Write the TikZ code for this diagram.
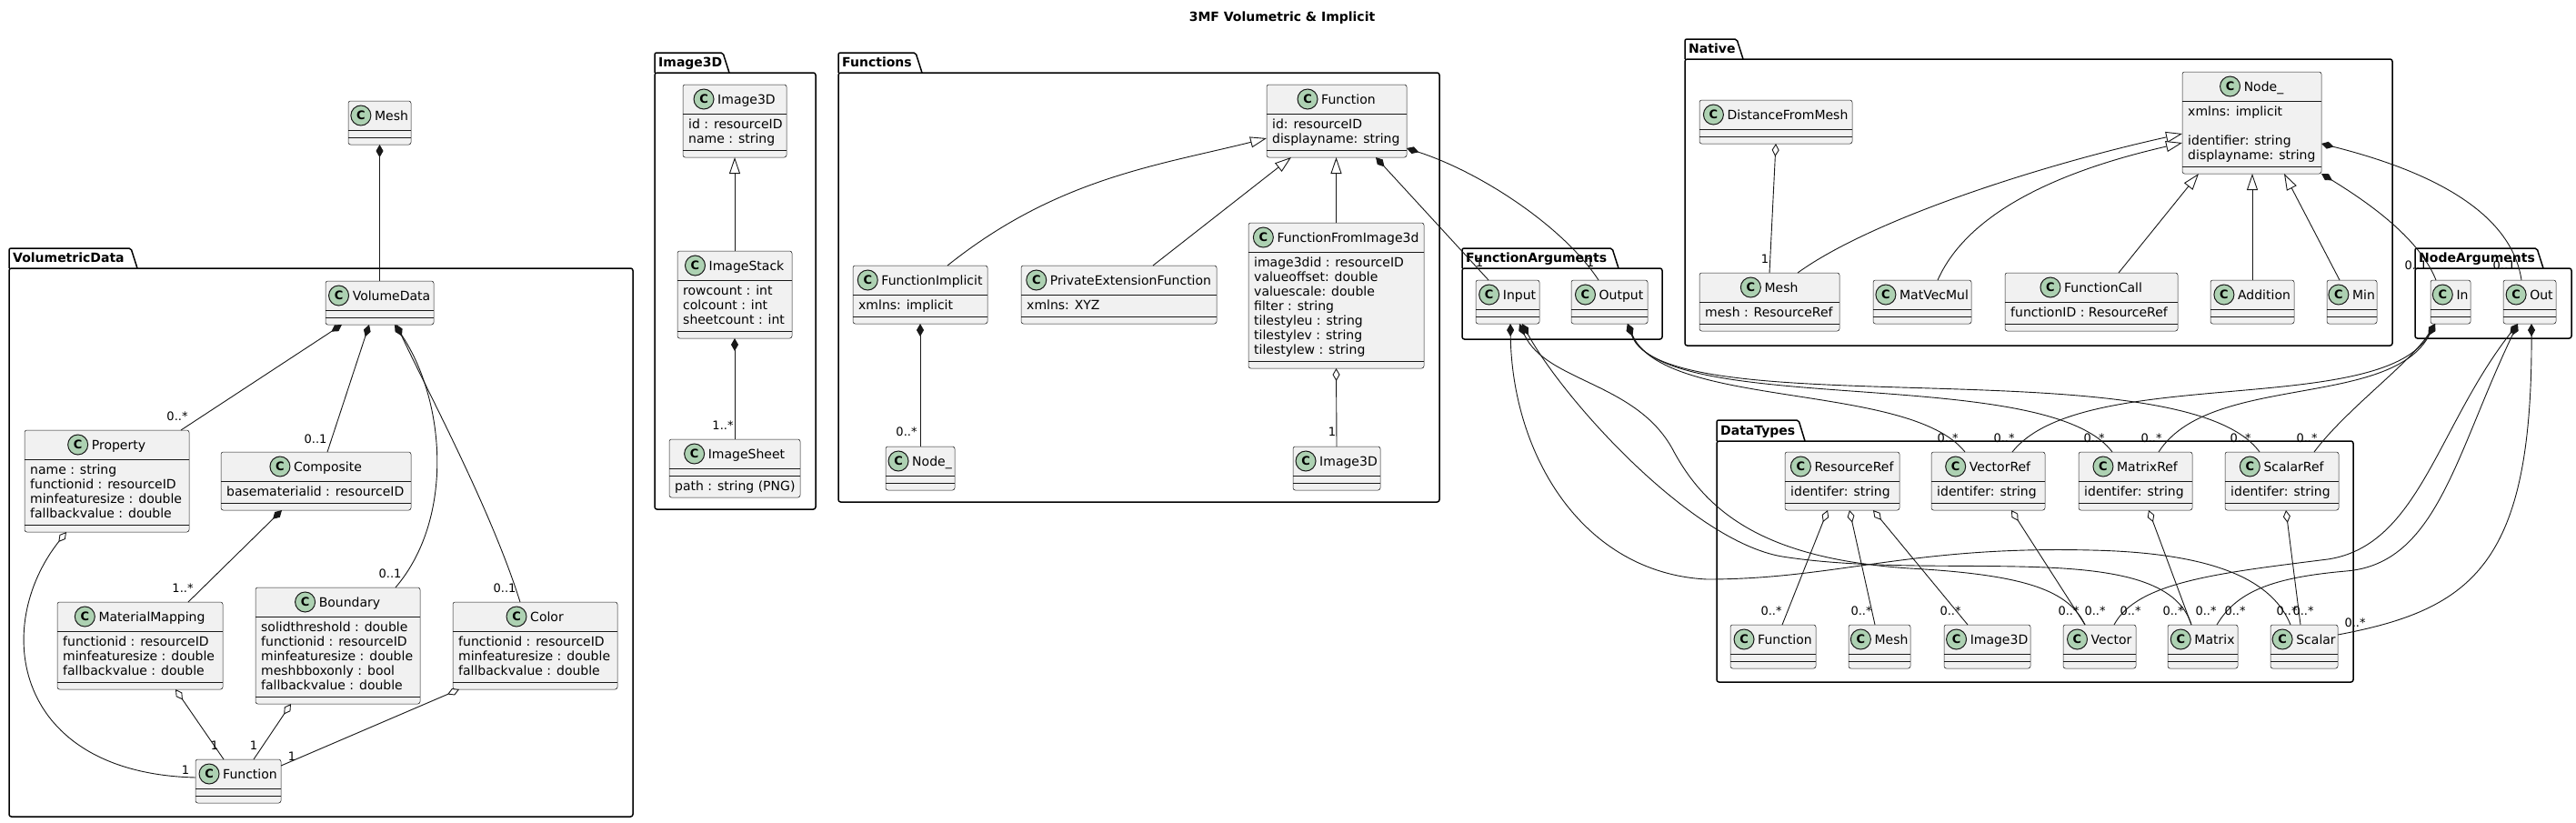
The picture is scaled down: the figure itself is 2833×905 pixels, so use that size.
\documentclass[tikz,border=0pt]{standalone}
\usepackage{fontspec}
\setmainfont{DejaVu Sans}
\usetikzlibrary{arrows.meta,calc}
\definecolor{ink}{HTML}{181818}
\definecolor{clsfill}{HTML}{F1F1F1}
\definecolor{badgefill}{HTML}{ADD1B2}
\tikzset{
  clsbox/.style={draw=ink, line width=0.5pt, fill=clsfill, rounded corners=2.5pt, inner sep=0pt, outer sep=0pt},
  clsname/.style={inner sep=0pt, font=\fontsize{14}{16}\selectfont, text=black},
  badge/.style={circle, draw=ink, line width=1pt, fill=badgefill, minimum size=22pt, inner sep=0pt, font=\fontsize{13}{13}\selectfont\bfseries},
  sepline/.style={draw=ink, line width=0.5pt},
  attr/.style={inner sep=0pt, font=\fontsize{14}{16}\selectfont},
  pkgline/.style={draw=black, line width=1.5pt},
  pkgname/.style={inner sep=0pt, font=\fontsize{14}{16}\selectfont\bfseries},
  conn/.style={draw=ink, line width=0.9pt},
  comp/.style={arrows={Diamond[length=14pt,width=8pt]-}},
  aggr/.style={arrows={Diamond[length=14pt,width=8pt,fill=white]-}},
  inh/.style={arrows={-Triangle[length=18pt,width=12pt,fill=white]}},
  elabel/.style={inner sep=0pt, font=\fontsize{13}{15}\selectfont},
}
% #1 id, #2 xl, #3 xr, #4 ytop, #5 number of attribute lines, #6 name, #7 attributes
\newcommand\umlclass[7]{%
  \pgfmathsetmacro\clsH{(#5>0) ? (48+16*#5) : 48}%
  \pgfmathsetmacro\clsW{#3-#2}%
  \pgfmathsetmacro\sepB{(#5>0) ? (40+16*#5) : 40}%
  \node[clsbox, minimum width=\clsW, minimum height=\clsH, anchor=north west] (#1) at (#2,#4) {};%
  \node[clsname, anchor=base] (#1-h) at ($(#1.north)+(0,21)$) {\hspace*{26pt}#6};%
  \node[badge] at ([xshift=11pt,yshift=5pt]#1-h.base west) {C};%
  \draw[sepline] ($(#1.north west)+(0,32)$) -- ($(#1.north east)+(0,32)$);%
  \draw[sepline] ($(#1.north west)+(0,\sepB)$) -- ($(#1.north east)+(0,\sepB)$);%
  \ifnum #5>0
    \foreach \a [count=\i] in {#7}{%
      \node[attr, anchor=base west] at ($(#1.north west)+(6,{32+16.5+16*(\i-1)})$) {\a};}%
  \fi
}
% class with empty fields and one method line
\newcommand\umlclassM[6]{%
  \pgfmathsetmacro\clsW{#3-#2}%
  \node[clsbox, minimum width=\clsW, minimum height=64, anchor=north west] (#1) at (#2,#4) {};%
  \node[clsname, anchor=base] (#1-h) at ($(#1.north)+(0,21)$) {\hspace*{26pt}#5};%
  \node[badge] at ([xshift=11pt,yshift=5pt]#1-h.base west) {C};%
  \draw[sepline] ($(#1.north west)+(0,32)$) -- ($(#1.north east)+(0,32)$);%
  \draw[sepline] ($(#1.north west)+(0,40)$) -- ($(#1.north east)+(0,40)$);%
  \node[attr, anchor=base west] at ($(#1.north west)+(6,56.5)$) {#6};%
}
% #1 id, #2 x1, #3 tab top, #4 tab right, #5 frame top, #6 x2, #7 y2, #8 name
\newcommand\umlpkg[8]{%
  \draw[pkgline, rounded corners=2pt] (#2,#5) -- (#2,#3) -- ({#4-7},#3) -- (#4,#5);%
  \draw[pkgline, rounded corners=2.5pt] (#2,#5) rectangle (#6,#7);%
  \node[pkgname, anchor=base west] (#1) at ({#2+4},{#5-7}) {#8};%
}
\begin{document}
\begin{tikzpicture}[x=1pt,y=-1pt]
\useasboundingbox (0,0) rectangle (2833,905);
\fill[white] (0,0) rectangle (2833,905);

\node[font=\fontsize{14}{16}\selectfont\bfseries, anchor=base, inner sep=0pt] (title) at (1410,23) {3MF Volumetric \& Implicit};

% packages
\umlpkg{pVD}{10}{273}{151}{295}{696}{898}{VolumetricData}
\umlpkg{pImg}{720}{58}{802}{80}{897}{560}{Image3D}
\umlpkg{pFn}{922}{58}{1014}{80}{1583}{552}{Functions}
\umlpkg{pNat}{1853}{43}{1917}{65}{2631}{380}{Native}
\umlpkg{pFA}{1608}{273}{1780}{295}{1828}{373}{FunctionArguments}
\umlpkg{pNA}{2656}{273}{2797}{295}{2828}{372}{NodeArguments}
\umlpkg{pDT}{1888}{462}{1985}{485}{2588}{750}{DataTypes}

% VolumetricData
\umlclass{mesht}{383}{452}{111}{0}{Mesh}{}
\umlclass{vd}{358}{477}{309}{0}{VolumeData}{}
\umlclass{prop}{27}{208}{473}{4}{Property}{name : string, functionid : resourceID, minfeaturesize : double, fallbackvalue : double}
\umlclass{compo}{243}{452}{497}{1}{Composite}{basematerialid : resourceID}
\umlclass{mm}{63}{245}{662}{3}{MaterialMapping}{functionid : resourceID, minfeaturesize : double, fallbackvalue : double}
\umlclass{bnd}{281}{462}{646}{5}{Boundary}{solidthreshold : double, functionid : resourceID, minfeaturesize : double, meshbboxonly : bool, fallbackvalue : double}
\umlclass{col}{498}{679}{662}{3}{Color}{functionid : resourceID, minfeaturesize : double, fallbackvalue : double}
\umlclass{fvd}{215}{309}{835}{0}{Function}{}

% Image3D
\umlclass{img}{751}{865}{93}{2}{Image3D}{id : resourceID, name : string}
\umlclass{stack}{745}{871}{276}{3}{ImageStack}{rowcount : int, colcount : int, sheetcount : int}
\umlclassM{sheet}{736}{880}{483}{ImageSheet}{path : string (PNG)}

% Functions
\umlclass{fn}{1393}{1547}{93}{2}{Function}{id: resourceID, displayname: string}
\umlclass{fimp}{938}{1086}{292}{1}{FunctionImplicit}{xmlns: implicit}
\umlclass{pef}{1123}{1338}{292}{1}{PrivateExtensionFunction}{xmlns: XYZ}
\umlclass{ffi}{1373}{1566}{245}{7}{FunctionFromImage3d}{image3did : resourceID, valueoffset: double, valuescale: double, filter : string, tilestyleu : string, tilestylev : string, tilestylew : string}
\umlclass{nodef}{974}{1050}{491}{0}{Node\_}{}
\umlclass{imgf}{1422}{1518}{491}{0}{Image3D}{}

% Native
\umlclass{noden}{2400}{2553}{79}{4}{Node\_}{xmlns: implicit, \mbox{}, identifier: string, displayname: string}
\umlclass{dfm}{1869}{2037}{110}{0}{DistanceFromMesh}{}
\umlclass{meshn}{1869}{2023}{300}{1}{Mesh}{mesh : ResourceRef}
\umlclass{mvm}{2060}{2168}{308}{0}{MatVecMul}{}
\umlclass{fcall}{2205}{2395}{300}{1}{FunctionCall}{functionID : ResourceRef}
\umlclass{add}{2431}{2523}{308}{0}{Addition}{}
\umlclass{minn}{2559}{2614}{308}{0}{Min}{}

% Arguments
\umlclass{input}{1623}{1693}{308}{0}{Input}{}
\umlclass{output}{1728}{1812}{308}{0}{Output}{}
\umlclass{inarg}{2673}{2717}{308}{0}{In}{}
\umlclass{outarg}{2753}{2811}{308}{0}{Out}{}

% DataTypes
\umlclass{rr}{1963}{2089}{497}{1}{ResourceRef}{identifer: string}
\umlclass{vr}{2124}{2249}{497}{1}{VectorRef}{identifer: string}
\umlclass{mr}{2286}{2411}{497}{1}{MatrixRef}{identifer: string}
\umlclass{sr}{2447}{2572}{497}{1}{ScalarRef}{identifer: string}
\umlclass{fd}{1903}{1997}{687}{0}{Function}{}
\umlclass{md}{2033}{2101}{687}{0}{Mesh}{}
\umlclass{idd}{2138}{2233}{687}{0}{Image3D}{}
\umlclass{vec}{2269}{2349}{687}{0}{Vector}{}
\umlclass{mat}{2384}{2461}{687}{0}{Matrix}{}
\umlclass{sca}{2497}{2571}{687}{0}{Scalar}{}

% ---- connectors: VolumetricData
\draw[conn,comp] (mesht.south) -- (vd.north);
\draw[conn,comp] ([xshift=-41.5pt]vd.south) -- ([xshift=81.5pt]prop.north);
\draw[conn,comp] ([xshift=-11.5pt]vd.south) -- ([xshift=12.5pt]compo.north);
\draw[conn,comp] ([xshift=16.5pt]vd.south) .. controls (490,440) and (500,570) .. ([xshift=63.5pt]bnd.north);
\draw[conn,comp] ([xshift=18.5pt]vd.south) .. controls (470,430) and (540,560) .. ([xshift=-16.5pt]col.north);
\draw[conn,comp] ([xshift=-37.5pt]compo.south) -- ([xshift=53pt]mm.north);
\draw[conn,aggr] ([xshift=-44.5pt]prop.south) .. controls (-10,690) and (15,850) .. ([yshift=4pt]fvd.west);
\draw[conn,aggr] ([xshift=39pt]mm.south) -- ([xshift=-16pt]fvd.north);
\draw[conn,aggr] ([xshift=-51.5pt]bnd.south) -- ([xshift=17pt]fvd.north);
\draw[conn,aggr] ([xshift=-83.5pt]col.south) -- ([yshift=17pt]fvd.east);
\node[elabel] (l1) at (195,458) {0..*};
\node[elabel] (l2) at (347,483) {0..1};
\node[elabel] (l3) at (429,631) {0..1};
\node[elabel] (l4) at (555,647) {0..1};
\node[elabel] (l5) at (201,647) {1..*};
\node[elabel] (l6) at (204,847) {1};
\node[elabel] (l7) at (236,820) {1};
\node[elabel] (l8) at (279,820) {1};
\node[elabel] (l9) at (321,832) {1};

% ---- Image3D
\draw[conn,inh] (stack.north) -- (img.south);
\draw[conn,comp] (stack.south) -- (sheet.north);
\node[elabel] (l10) at (795,468) {1..*};

% ---- Functions
\draw[conn,inh] ([xshift=30pt]fimp.north) .. controls (1162,196) and (1273,182) .. ([yshift=-19pt]fn.west);
\draw[conn,inh] ([xshift=37.5pt]pef.north) -- ([xshift=-50pt]fn.south);
\draw[conn,inh] (ffi.north) -- (ffi.north |- fn.south);
\draw[conn,comp] (fimp.south) -- (nodef.north);
\draw[conn,aggr] (ffi.south) -- (imgf.north);
\draw[conn,comp] ([xshift=43pt]fn.south) -- ([xshift=-21pt]input.north);
\draw[conn,comp] ([yshift=-30pt]fn.east) .. controls (1630,190) and (1720,250) .. ([xshift=-12pt]output.north);
\node[elabel] (l11) at (997,475) {0..*};
\node[elabel] (l12) at (1465,475) {1};
\node[elabel] (l13) at (1627,289) {1};
\node[elabel] (l14) at (1749,289) {1};

% ---- Native
\draw[conn,aggr] (dfm.south) -- (meshn.north);
\draw[conn,inh] ([xshift=31pt]meshn.north) .. controls (2060,240) and (2250,180) .. ([yshift=-12pt]noden.west);
\draw[conn,inh] ([xshift=17pt]mvm.north) .. controls (2170,220) and (2300,180) .. ([yshift=-22pt]noden.west);
\draw[conn,inh] ([xshift=30pt]fcall.north) -- ([xshift=-58.5pt]noden.south);
\draw[conn,inh] (add.north) -- (add.north |- noden.south);
\draw[conn,inh] ([xshift=-13.5pt]minn.north) -- ([xshift=35.5pt]noden.south);
\draw[conn,comp] (noden.south east) .. controls (2600,220) and (2660,260) .. ([xshift=-16pt]inarg.north);
\draw[conn,comp] ([yshift=-23pt]noden.east) .. controls (2640,180) and (2760,220) .. ([xshift=-9pt]outarg.north);
\node[elabel] (l15) at (1941,285) {1};
\node[elabel] (l16) at (2657,292) {0..1};
\node[elabel] (l17) at (2754,292) {0..1};

% ---- DataTypes internal
\draw[conn,aggr] ([xshift=-16pt]rr.south) -- ([xshift=10pt]fd.north);
\draw[conn,aggr] ([xshift=8pt]rr.south) -- ([xshift=-5pt]md.north);
\draw[conn,aggr] ([xshift=34pt]rr.south) -- ([xshift=-21.5pt]idd.north);
\draw[conn,aggr] ([xshift=25.5pt]vr.south) -- ([xshift=-16pt]vec.north);
\draw[conn,aggr] ([xshift=14.5pt]mr.south) -- ([xshift=-12.5pt]mat.north);
\draw[conn,aggr] ([xshift=4.5pt]sr.south) -- ([xshift=-4pt]sca.north);

% ---- Output / In to refs
\draw[conn,comp] ([xshift=20pt]output.south) .. controls (1830,450) and (2100,420) .. ([xshift=-25.5pt]vr.north);
\draw[conn,comp] ([xshift=20pt]output.south) .. controls (1830,460) and (2250,400) .. ([xshift=-25.5pt]mr.north);
\draw[conn,comp] ([xshift=20pt]output.south) .. controls (1830,470) and (2400,380) .. ([xshift=-24.5pt]sr.north);
\draw[conn,comp] ([xshift=-17pt]inarg.south) .. controls (2650,400) and (2580,450) .. ([xshift=35.5pt]sr.north);
\draw[conn,comp] ([xshift=-17pt]inarg.south) .. controls (2630,450) and (2430,410) .. ([xshift=25.5pt]mr.north);
\draw[conn,comp] ([xshift=-17pt]inarg.south) .. controls (2620,460) and (2290,400) .. ([xshift=26.5pt]vr.north);

% ---- Input / Out to values
\draw[conn,comp] ([xshift=3pt]input.south) .. controls (1663,500) and (1740,630) .. (1877,637) .. controls (2020,637) and (2100,600) .. (2300,605) .. controls (2440,608) and (2500,640) .. ([xshift=-15pt]sca.north);
\draw[conn,comp] ([xshift=13pt]input.south) .. controls (1700,420) and (1800,420) .. (1840,495) .. controls (1880,570) and (1950,615) .. (2100,625) .. controls (2230,632) and (2275,650) .. ([xshift=-16pt]vec.north);
\draw[conn,comp] ([xshift=16pt]input.south) .. controls (1720,440) and (1860,595) .. (1960,612) .. controls (2140,640) and (2380,590) .. ([xshift=-12.5pt]mat.north);
\draw[conn,comp] ([xshift=-13pt]outarg.south) .. controls (2680,470) and (2660,600) .. (2560,615) .. controls (2440,630) and (2350,640) .. ([xshift=16pt]vec.north);
\draw[conn,comp] ([xshift=-13pt]outarg.south) .. controls (2700,500) and (2680,620) .. (2580,628) .. controls (2500,635) and (2460,650) .. ([xshift=15.5pt]mat.north);
\draw[conn,comp] ([xshift=2pt]outarg.south) .. controls (2785,620) and (2720,670) .. ([yshift=13pt]sca.east);

% ---- DataTypes labels
\node[elabel] (m1) at (1948,672) {0..*};
\node[elabel] (m2) at (2047,672) {0..*};
\node[elabel] (m3) at (2145,672) {0..*};
\node[elabel] (m4) at (2275,672) {0..*};
\node[elabel] (m5) at (2304,672) {0..*};
\node[elabel] (m6) at (2343,672) {0..*};
\node[elabel] (m7) at (2390,672) {0..*};
\node[elabel] (m8) at (2426,672) {0..*};
\node[elabel] (m9) at (2458,672) {0..*};
\node[elabel] (m10) at (2515,672) {0..*};
\node[elabel] (m11) at (2533,672) {0..*};
\node[elabel] (m12) at (2590,685) {0..*};
\node[elabel] (t1) at (2142,482) {0..*};
\node[elabel] (t2) at (2204,482) {0..*};
\node[elabel] (t3) at (2303,482) {0..*};
\node[elabel] (t4) at (2366,482) {0..*};
\node[elabel] (t5) at (2464,482) {0..*};
\node[elabel] (t6) at (2537,482) {0..*};
\end{tikzpicture}
\end{document}
